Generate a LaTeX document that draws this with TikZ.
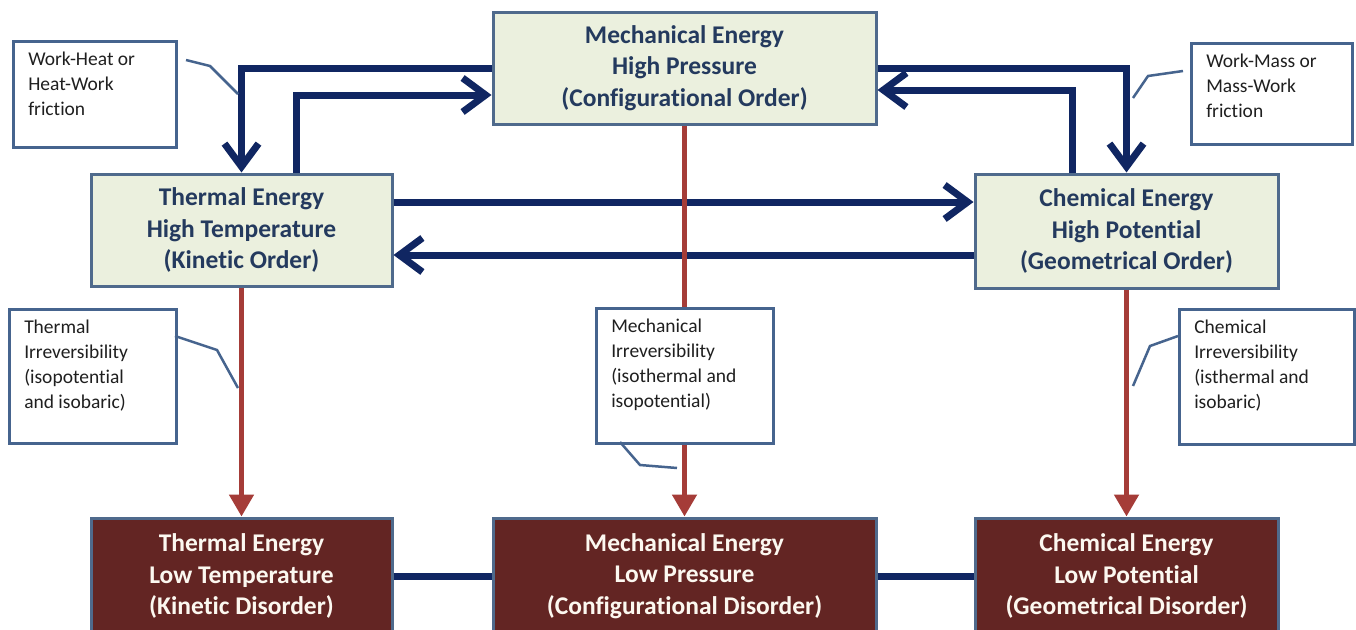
\documentclass[tikz,border=0pt]{standalone}
\usepackage{fontspec}
\setmainfont{Carlito}[Ligatures=NoCommon]
\usetikzlibrary{arrows.meta}

\definecolor{orderfill}{RGB}{235,240,222}
\definecolor{ordertext}{RGB}{36,58,94}
\definecolor{disorderfill}{RGB}{99,37,35}
\definecolor{disordertext}{RGB}{252,248,240}
\definecolor{boxedge}{RGB}{79,106,140}
\definecolor{calloutedge}{RGB}{70,100,142}
\definecolor{navy}{RGB}{16,38,98}
\definecolor{irrevred}{RGB}{165,60,56}

% callout text: fixed-size top-aligned block
\newcommand{\calltext}[3]{\begin{minipage}[t][#2pt][t]{#1pt}\raggedright #3\end{minipage}}

\begin{document}
\begin{tikzpicture}[x=1pt,y=-1pt,
  levelbox/.style={draw=boxedge, line width=3pt, align=center, inner sep=0pt,
    font=\bfseries\fontsize{25.5}{31.5}\selectfont},
  highbox/.style={levelbox, fill=orderfill, text=ordertext},
  lowbox/.style={levelbox, fill=disorderfill, text=disordertext},
  callout/.style={draw=calloutedge, line width=2.5pt, fill=white, anchor=north west,
    inner xsep=15pt, inner ysep=11pt, text=black!88,
    font=\fontsize{19.5}{25}\selectfont},
  leader/.style={draw=calloutedge, line width=2.5pt},
  workflow/.style={draw=navy, line width=7pt,
    -{Straight Barb[length=23pt,width=34pt]}},
  worklink/.style={draw=navy, line width=7pt},
  irrev/.style={draw=irrevred, line width=5pt,
    -{Triangle[length=22pt,width=24pt]}}]

\clip (0,0) rectangle (1356,629);
\fill[white] (0,0) rectangle (1356,629);

% ordered (high) states
\node[highbox, minimum width=383pt, minimum height=112pt] (mh) at (684.5,68)
  {Mechanical Energy\\High Pressure\\(Configurational Order)};
\node[highbox, minimum width=301pt, minimum height=112pt] (th) at (241.5,230)
  {Thermal Energy\\High Temperature\\(Kinetic Order)};
\node[highbox, minimum width=303pt, minimum height=114pt] (ch) at (1126.5,231)
  {Chemical Energy\\High Potential\\(Geometrical Order)};

% disordered (low) states
\node[lowbox, minimum width=301pt, minimum height=116pt] (tl) at (241.5,576)
  {Thermal Energy\\Low Temperature\\(Kinetic Disorder)};
\node[lowbox, minimum width=383pt, minimum height=116pt] (ml) at (684.5,576)
  {Mechanical Energy\\Low Pressure\\(Configurational Disorder)};
\node[lowbox, minimum width=303pt, minimum height=116pt] (cl) at (1126.5,576)
  {Chemical Energy\\Low Potential\\(Geometrical Disorder)};

% reversible exchanges between ordered states
\draw[workflow] (mh.west) -| (th.north);
\draw[workflow] ([xshift=54.5pt]th.north) |- ([yshift=-27pt]mh.west);
\draw[workflow] (mh.east) -| (ch.north);
\draw[workflow] ([xshift=-54.5pt]ch.north) |- ([yshift=-22pt]mh.east);
\draw[workflow] ([yshift=28pt]th.east) -- ([yshift=28pt]th.east -| ch.west);
\draw[workflow] ([yshift=-25pt]th.east -| ch.west) -- ([yshift=-25pt]th.east);

% links between disordered states
\draw[worklink] (tl.east) -- (ml.west);
\draw[worklink] (ml.east) -- (cl.west);

% irreversible degradation
\draw[irrev] (th.south) -- (tl.north);
\draw[irrev] (mh.south) -- (ml.north);
\draw[irrev] (ch.south) -- (cl.north);

% callouts
\node[callout] (wh) at (12,40) {\calltext{133}{84}{Work-Heat or\\Heat-Work\\friction}};
\node[callout] (wm) at (1190,42) {\calltext{131}{79}{Work-Mass or\\Mass-Work\\friction}};
\node[callout] (ti) at (8,308) {\calltext{137}{112}{Thermal\\Irreversibility\\(isopotential\\and isobaric)}};
\node[callout] (mi) at (595,307) {\calltext{147}{113}{Mechanical\\Irreversibility\\(isothermal and\\isopotential)}};
\node[callout] (ci) at (1178,308) {\calltext{145}{113}{Chemical\\Irreversibility\\(isthermal and\\isobaric)}};

% callout leaders
\coordinate (whA) at (186,60);  \coordinate (whB) at (210,66);  \coordinate (whC) at (238,94);
\coordinate (wmA) at (1183,71); \coordinate (wmB) at (1148,76); \coordinate (wmC) at (1133,98);
\coordinate (tiA) at (175,336); \coordinate (tiB) at (217,350); \coordinate (tiC) at (238,388);
\coordinate (miA) at (620,442); \coordinate (miB) at (640,465); \coordinate (miC) at (677,468);
\coordinate (ciA) at (1178,336); \coordinate (ciB) at (1150,346); \coordinate (ciC) at (1133,386);
\draw[leader] (whA) -- (whB) -- (whC);
\draw[leader] (wmA) -- (wmB) -- (wmC);
\draw[leader] (tiA) -- (tiB) -- (tiC);
\draw[leader] (miA) -- (miB) -- (miC);
\draw[leader] (ciA) -- (ciB) -- (ciC);
\end{tikzpicture}
\end{document}
